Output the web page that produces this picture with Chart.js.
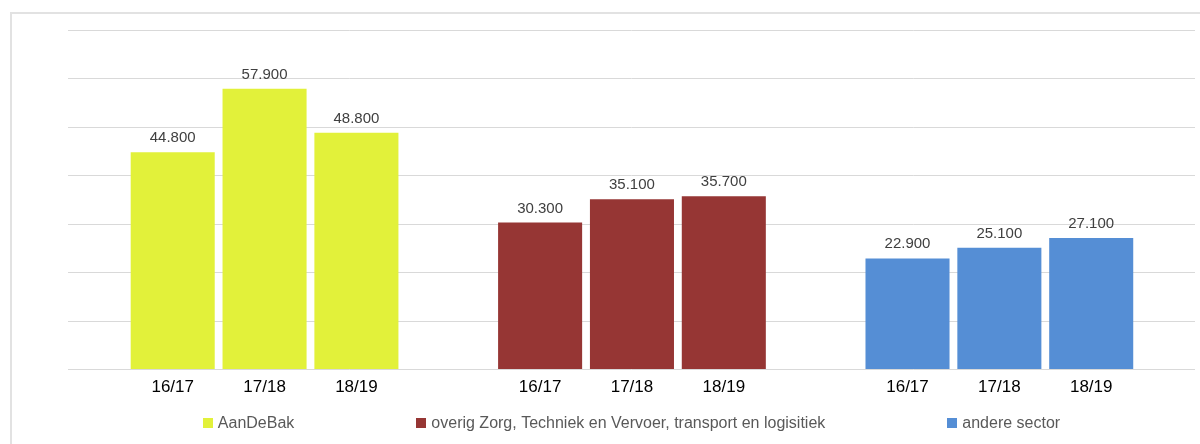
<!DOCTYPE html>
<html>
<head>
<meta charset="utf-8">
<script src="https://cdn.jsdelivr.net/npm/chart.js@4/dist/chart.umd.min.js"></script>
<style>
html,body{margin:0;padding:0;background:#fff;}
#wrap{width:1200px;height:444px;position:relative;}
</style>
</head>
<body>
<div id="wrap"><canvas id="c" width="1200" height="444"></canvas></div>
<script>
// ---- data ----
const seasons = ["16/17", "17/18", "18/19"];
const seriesNames = ["AanDeBak", "overig Zorg, Techniek en Vervoer, transport en logisitiek", "andere sector"];
const aanDeBak = [44800, 57900, 48800];
const overig = [30300, 35100, 35700];
const andereSector = [22900, 25100, 27100];
const yTicks = [0, 10000, 20000, 30000, 40000, 50000, 60000, 70000];

const colors = ["#E2F13A", "#963634", "#558ED5"];
const groups = [aanDeBak, overig, andereSector];

// x positions: each group occupies 3 slots followed by one empty slot
const positions = [];
const tickLabelMap = {};
groups.forEach((g, gi) => {
  g.forEach((v, i) => {
    const x = gi * 4 + i;
    positions.push(x);
    tickLabelMap[x] = seasons[i];
  });
});

function fmt(n) {
  return String(n).replace(/\B(?=(\d{3})+(?!\d))/g, ".");
}

const datasets = groups.map((g, gi) => ({
  label: seriesNames[gi],
  data: g.map((v, i) => ({ x: gi * 4 + i, y: v })),
  backgroundColor: colors[gi],
  borderWidth: 0,
  barPercentage: 0.915,
  categoryPercentage: 1.0
}));

const framePlugin = {
  id: "frame",
  beforeDraw(chart) {
    const ctx = chart.ctx;
    ctx.save();
    ctx.fillStyle = "#fff";
    ctx.fillRect(0, 0, chart.width, chart.height);
    ctx.strokeStyle = "#e2e2e2";
    ctx.lineWidth = 2;
    ctx.beginPath();
    ctx.moveTo(11, chart.height);
    ctx.lineTo(11, 13);
    ctx.lineTo(chart.width, 13);
    ctx.stroke();
    ctx.restore();
  }
};

const labelPlugin = {
  id: "valueLabels",
  afterDatasetsDraw(chart) {
    const ctx = chart.ctx;
    ctx.save();
    ctx.font = "15px 'Liberation Sans', Arial, sans-serif";
    ctx.fillStyle = "#404040";
    ctx.textAlign = "center";
    ctx.textBaseline = "alphabetic";
    chart.data.datasets.forEach((ds, di) => {
      const meta = chart.getDatasetMeta(di);
      meta.data.forEach((el, i) => {
        ctx.fillText(fmt(ds.data[i].y), el.x, el.y - 10);
      });
    });
    ctx.restore();
  }
};

const legendPlugin = {
  id: "customLegend",
  afterDraw(chart) {
    const ctx = chart.ctx;
    const ca = chart.chartArea;
    ctx.save();
    ctx.font = "16px 'Liberation Sans', Arial, sans-serif";
    const box = 10, boxGap = 5, itemGap = 122;
    const items = chart.data.datasets.map(ds => ({
      text: ds.label, color: ds.backgroundColor, w: ctx.measureText(ds.label).width
    }));
    const total = items.reduce((s, it) => s + box + boxGap + it.w, 0) + itemGap * (items.length - 1);
    let x = (ca.left + ca.right) / 2 - total / 2;
    const baseY = 428;
    items.forEach(it => {
      ctx.fillStyle = it.color;
      ctx.fillRect(Math.round(x), baseY - 10, box, box);
      ctx.fillStyle = "#595959";
      ctx.textAlign = "left";
      ctx.textBaseline = "alphabetic";
      ctx.fillText(it.text, x + box + boxGap, baseY);
      x += box + boxGap + it.w + itemGap;
    });
    ctx.restore();
  }
};

new Chart(document.getElementById("c"), {
  type: "bar",
  data: { datasets },
  plugins: [framePlugin, labelPlugin, legendPlugin],
  options: {
    responsive: false,
    animation: false,
    layout: { padding: { left: 68, right: 5, top: 30, bottom: 0 } },
    plugins: { legend: { display: false }, tooltip: { enabled: false } },
    scales: {
      x: {
        type: "linear",
        stacked: true,
        offset: false,
        min: -1.14,
        max: 11.13,
        grid: { display: false, drawTicks: false, offset: false },
        border: { display: false },
        afterBuildTicks: s => { s.ticks = positions.map(v => ({ value: v })); },
        afterFit: s => { s.height = 74.5; },
        ticks: {
          autoSkip: false,
          maxRotation: 0,
          padding: 8,
          color: "#000",
          font: { family: "'Liberation Sans', Arial, sans-serif", size: 17 },
          callback: v => tickLabelMap[v] !== undefined ? tickLabelMap[v] : ""
        }
      },
      y: {
        stacked: true,
        min: 0,
        max: 70000,
        afterBuildTicks: s => { s.ticks = yTicks.map(v => ({ value: v })); },
        afterFit: s => { s.width = 0; },
        grid: { color: "#d9d9d9", lineWidth: 1, drawTicks: false },
        border: { display: false },
        ticks: { display: false }
      }
    }
  }
});
</script>
</body>
</html>
